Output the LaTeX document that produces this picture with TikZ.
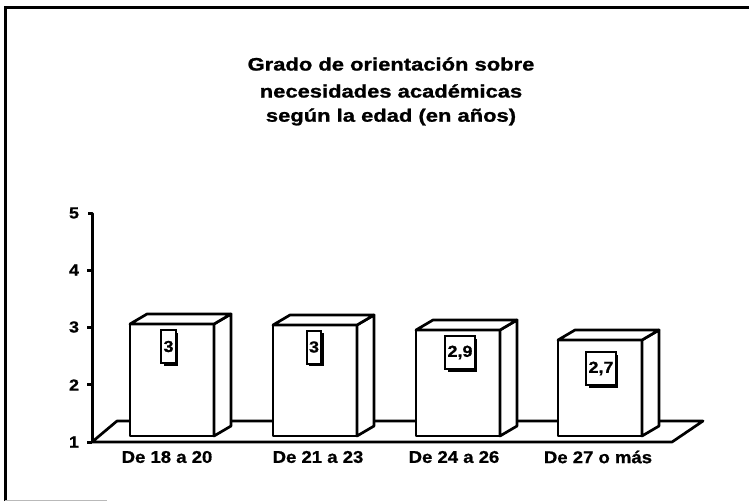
\documentclass[tikz,border=0pt]{standalone}
\usepackage{fontspec}
\setmainfont{Liberation Sans}
\newfontfamily\titlefont{Liberation Sans}[FakeStretch=1.22, FakeBold=1.2]
\newfontfamily\catfont{Liberation Sans}[FakeStretch=1.09, FakeBold=0.8]
\newfontfamily\numfont{Liberation Sans}[FakeStretch=1.12, FakeBold=0.8]
\usetikzlibrary{shadows}
\tikzset{
  heavy/.style={line width=2.7pt, line join=round},
  titletext/.style={font=\titlefont\bfseries\fontsize{18}{20}\selectfont, inner sep=0pt},
  cattext/.style={font=\catfont\bfseries\fontsize{17}{20}\selectfont, inner sep=0pt},
  ticktext/.style={font=\numfont\bfseries\fontsize{16}{18}\selectfont, inner sep=0pt},
  valbox/.style={draw, line width=2pt, fill=white, inner xsep=2.5pt, inner ysep=0pt,
    minimum height=33pt, font=\numfont\bfseries\fontsize{16}{18}\selectfont,
    drop shadow={shadow xshift=2.5pt, shadow yshift=-2.5pt, fill=black, opacity=1}},
}
\begin{document}
\begin{tikzpicture}[x=1pt,y=-1pt]
\useasboundingbox (0,0) rectangle (749,501);
% frame
\draw[line width=3pt] (5,501) -- (5,7) -- (749,7);
\draw[gray!55, line width=1pt] (5,500) -- (107,500);
% title
\node[titletext] (title1) at (391,64) {Grado de orientación sobre};
\node[titletext] (title2) at (391,91) {necesidades académicas};
\node[titletext] (title3) at (391,117) {según la edad (en años)};
% floor
\draw[heavy, fill=white] (92,442) -- (672,442) -- (703,421) -- (117,421) -- cycle;
% bars
\foreach \xl/\yt in {130/324, 273/325, 416/330, 558/340}{
  \filldraw[heavy, fill=white] (\xl,436) rectangle (\xl+84,\yt);
  \filldraw[heavy, fill=white] (\xl+84,\yt) -- (\xl+101,\yt-10) -- (\xl+101,426) -- (\xl+84,436) -- cycle;
  \filldraw[heavy, fill=white] (\xl,\yt) -- (\xl+17,\yt-10) -- (\xl+101,\yt-10) -- (\xl+84,\yt) -- cycle;
}
% axis
\draw[line width=3pt, line join=round] (88,213) -- (92,213) -- (92,442);
\foreach \yy in {270,327,384,442}{
  \draw[line width=3pt] (87,\yy) -- (92,\yy);
}
\node[ticktext] (t5) at (74,213) {5};
\node[ticktext] (t4) at (74,270) {4};
\node[ticktext] (t3) at (74,327) {3};
\node[ticktext] (t2) at (74,385) {2};
\node[ticktext] (t1) at (74,442) {1};
% value boxes
\node[valbox] (v1) at (168.5,346.5) {3};
\node[valbox] (v2) at (314,347) {3};
\node[valbox] (v3) at (460,352.5) {2,9};
\node[valbox] (v4) at (601,368.5) {2,7};
% categories
\node[cattext] (c1) at (167,457) {De 18 a 20};
\node[cattext] (c2) at (318,457) {De 21 a 23};
\node[cattext] (c3) at (454,457) {De 24 a 26};
\node[cattext] (c4) at (598,457) {De 27 o más};
\end{tikzpicture}
\end{document}
